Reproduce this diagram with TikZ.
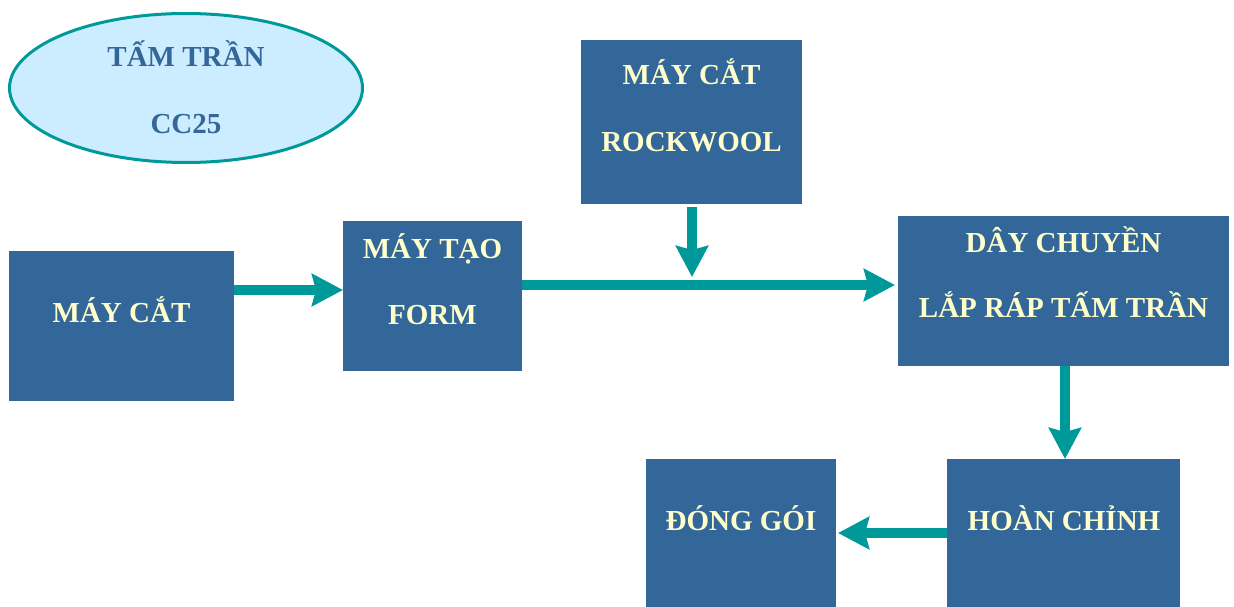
\documentclass[tikz,border=0pt]{standalone}
\usepackage{fontspec}
\setmainfont{Liberation Serif}
\usetikzlibrary{arrows.meta,shapes.geometric}
\definecolor{boxblue}{HTML}{336699}
\definecolor{txtyellow}{HTML}{FFFFCC}
\definecolor{arrteal}{HTML}{009999}
\definecolor{ellfill}{HTML}{CCECFF}
\tikzset{
  box/.style={rectangle, fill=boxblue, draw=none, inner sep=0pt, outer sep=0pt},
  lbl/.style={anchor=base, text=txtyellow, inner sep=0pt, font=\fontsize{29}{35}\selectfont\bfseries},
  elbl/.style={anchor=base, text=boxblue, inner sep=0pt, font=\fontsize{29}{35}\selectfont\bfseries},
  arr/.style={draw=arrteal, line width=10pt, -{Stealth[length=31pt, width=32pt, inset=4pt]}},
}
\begin{document}
\begin{tikzpicture}[x=1pt,y=-1pt]
\useasboundingbox (0,0) rectangle (1234,607);
% ellipse
\node[ellipse, draw=arrteal, line width=3pt, fill=ellfill, minimum width=353pt, minimum height=149pt, inner sep=0pt] (ell) at (186,88) {};
\node[elbl] (ell1) at (186,67) {TẤM TRẦN};
\node[elbl] (ell2) at (186,134) {CC25};
% boxes
\node[box, minimum width=225pt, minimum height=150pt] (b1) at (121.5,326) {};
\node[lbl] (b1t) at (121.5,322) {MÁY CẮT};
\node[box, minimum width=179pt, minimum height=150pt] (b2) at (432.5,296) {};
\node[lbl] (b2t1) at (432.5,258) {MÁY TẠO};
\node[lbl] (b2t2) at (432.5,324) {FORM};
\node[box, minimum width=221pt, minimum height=164pt] (b3) at (691.5,122) {};
\node[lbl] (b3t1) at (691.5,85) {MÁY CẮT};
\node[lbl] (b3t2) at (691.5,151) {ROCKWOOL};
\node[box, minimum width=331pt, minimum height=150pt] (b4) at (1063.5,291) {};
\node[lbl] (b4t1) at (1063.5,252) {DÂY CHUYỀN};
\node[lbl] (b4t2) at (1063.5,317) {LẮP RÁP TẤM TRẦN};
\node[box, minimum width=190pt, minimum height=148pt] (b5) at (741,533) {};
\node[lbl] (b5t) at (741,530) {ĐÓNG GÓI};
\node[box, minimum width=233pt, minimum height=148pt] (b6) at (1063.5,533) {};
\node[lbl] (b6t) at (1064,530) {HOÀN CHỈNH};
% helper coordinates
\coordinate (y1) at (0,290);
\coordinate (y2) at (0,285);
\coordinate (x3) at (692,0);
\coordinate (x4) at (1065,0);
\coordinate (dn) at (692,277);
% connectors
\draw[arr] (b1.east |- y1) -- (b2.west |- y1);
\draw[arr, shorten >=3pt] (b2.east |- y2) -- (b4.west |- y2);
\draw[arr, shorten <=3pt] (x3 |- b3.south) -- (dn);
\draw[arr] (x4 |- b4.south) -- (x4 |- b6.north);
\draw[arr, shorten >=2pt] (b6.west) -- (b5.east);
\end{tikzpicture}
\end{document}
